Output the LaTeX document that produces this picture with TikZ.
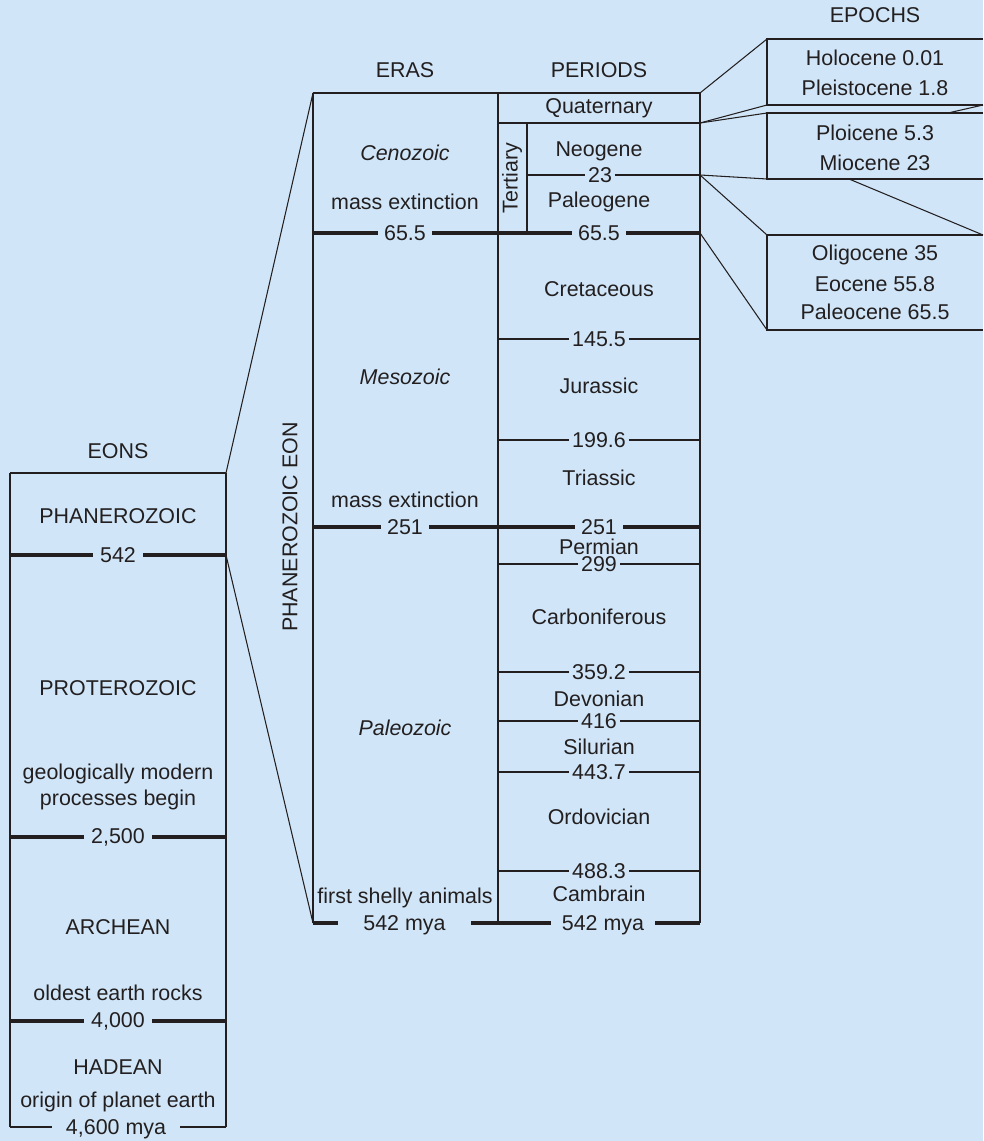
\documentclass[tikz,border=0pt]{standalone}
\usepackage{fontspec}
\setmainfont{Liberation Sans}
\usepackage{tikz}
\usetikzlibrary{positioning}
\definecolor{PaperBlue}{RGB}{208,230,248}
\definecolor{Ink}{RGB}{35,31,32}
\tikzset{
  txt/.style={font=\fontsize{12.2}{14.5}\selectfont, text=Ink, inner sep=0pt, align=center},
  eratxt/.style={txt, font=\fontsize{12.2}{14.5}\selectfont\itshape},
  tick/.style={txt, inner xsep=1.5pt},
  bartick/.style={txt, inner xsep=3.5pt},
  frame/.style={draw=Ink, line width=0.6pt},
  divider/.style={draw=Ink, line width=1pt},
  bar/.style={draw=Ink, line width=2.8pt},
}

\begin{document}
\begin{tikzpicture}[x=0.02cm, y=-0.02cm]
  \fill[PaperBlue] (0,0) rectangle (983,1141);
  % column heads
  \node[txt] (eonhead) at (118,451) {EONS};
  \node[txt] (erahead) at (405,70) {ERAS};
  \node[txt] (perhead) at (599,70) {PERIODS};
  \node[txt] (epohead) at (875,15) {EPOCHS};

  % ---------- eons ----------
  \draw[frame] (10,473) -- (226,473);
  \draw[frame] (10,473) -- (10,1127);
  \draw[frame] (226,473) -- (226,1127);
  \node[txt] (phan) at (118,516) {PHANEROZOIC};
  \node[txt] (prot) at (118,688) {PROTEROZOIC};
  \node[txt] (geomod) at (118,787) {geologically modern\\processes begin};
  \node[txt] (arch) at (118,927) {ARCHEAN};
  \node[txt] (oldest) at (118,993) {oldest earth rocks};
  \node[txt] (hade) at (118,1067) {HADEAN};
  \node[txt] (origin) at (118,1102) {origin of planet earth};
  \foreach \y/\t [count=\i] in {555/542, 837/{2,500}, 1021/{4,000}} {
    \node[bartick, inner xsep=4pt] (eb\i) at (118,\y) {\t};
    \draw[bar] (10,\y) -- (eb\i.west);
    \draw[bar] (eb\i.east) -- (226,\y);
  }
  \node[txt, text depth=0pt, minimum width=2.56cm] (eonend) at (116,1127) {4,600 mya};
  \draw[frame] (10,1127) -- (eonend.west);
  \draw[frame] (eonend.east) -- (226,1127);

  % ---------- eras and periods frame ----------
  \draw[frame] (313,93) -- (700,93);
  \draw[frame] (313,93) -- (313,923);
  \draw[divider] (498,93) -- (498,923);
  \draw[frame] (700,93) -- (700,923);
  \coordinate (eratop) at (313,93);
  \coordinate (erabot) at (313,923);
  \draw[frame] (226,473) -- (eratop);
  \draw[frame] (226,555) -- (erabot);
  \node[txt, rotate=90] (eonlabel) at (290,527) {PHANEROZOIC EON};

  % eras
  \node[eratxt] (ceno) at (405,153) {Cenozoic};
  \node[txt] (massA) at (405,202) {mass extinction};
  \node[eratxt] (meso) at (405,377) {Mesozoic};
  \node[txt] (massB) at (405,500) {mass extinction};
  \node[eratxt] (paleo) at (405,728) {Paleozoic};
  \node[txt] (shelly) at (405,898) {first shelly animals};

  % cenozoic subdivisions
  \draw[frame] (498,123) -- (700,123);
  \draw[frame] (527,123) -- (527,233);
  \node[txt, rotate=90] (tert) at (512,178) {Tertiary};
  \node[tick] (neo) at (600,175) {23};
  \draw[frame] (527,175) -- (neo.west);
  \draw[frame] (neo.east) -- (700,175);

  % thick boundaries
  \foreach \y/\t [count=\i] in {233/65.5, 527/251} {
    \node[bartick] (ea\i) at (405,\y) {\t};
    \node[bartick] (pa\i) at (599,\y) {\t};
    \draw[bar] (313,\y) -- (ea\i.west);
    \draw[bar] (ea\i.east) -- (pa\i.west);
    \draw[bar] (pa\i.east) -- (700,\y);
  }
  \node[txt, text depth=0pt, minimum width=2.66cm] (eraend) at (404.5,923) {542 mya};
  \node[txt, text depth=0pt, minimum width=2.08cm] (perend) at (603,923) {542 mya};
  \draw[bar] (313,923) -- (eraend.west);
  \draw[bar] (eraend.east) -- (perend.west);
  \draw[bar] (perend.east) -- (700,923);

  % periods
  \foreach \y/\t [count=\i] in {108/Quaternary, 151/Neogene, 202/Paleogene,
      289/Cretaceous, 386/Jurassic, 478/Triassic, 546.5/Permian,
      617/Carboniferous, 699/Devonian, 747/Silurian, 817/Ordovician, 894/Cambrain} {
    \node[txt] (per\i) at (599,\y) {\t};
  }
  \foreach \y/\t [count=\i] in {339/145.5, 440/199.6, 564/299, 672/359.2,
      721/416, 772/443.7, 871/488.3} {
    \node[tick] (pt\i) at (599,\y) {\t};
    \draw[frame] (498,\y) -- (pt\i.west);
    \draw[frame] (pt\i.east) -- (700,\y);
  }

  % ---------- epochs ----------
  \node[txt] (holo) at (875,58) {Holocene 0.01};
  \node[txt] (pleis) at (875,88) {Pleistocene 1.8};
  \node[txt] (plio) at (875,133) {Ploicene 5.3};
  \node[txt] (mio) at (875,163) {Miocene 23};
  \node[txt] (oligo) at (875,255) {Oligocene 35};
  \node[txt] (eoc) at (875,284) {Eocene 55.8};
  \node[txt] (paleoc) at (875,312) {Paleocene 65.5};
  \foreach \t/\b [count=\i] in {39/105, 113/179, 235/330} {
    \coordinate (bx\i a) at (767,\t);
    \coordinate (bx\i b) at (767,\b);
    \draw[frame] (983,\t) -- (bx\i a) -- (bx\i b) -- (983,\b);
  }
  \draw[frame] (700,93) -- (bx1a);
  \draw[frame] (700,123) -- (bx1b);
  \draw[frame] (700,123) -- (bx2a);
  \draw[frame] (948,113) -- (983,105);
  \draw[frame] (700,175) -- (bx2b);
  \draw[frame] (700,175) -- (bx3a);
  \draw[frame] (849,179) -- (983,235);
  \draw[frame] (700,233) -- (bx3b);
\end{tikzpicture}
\end{document}
